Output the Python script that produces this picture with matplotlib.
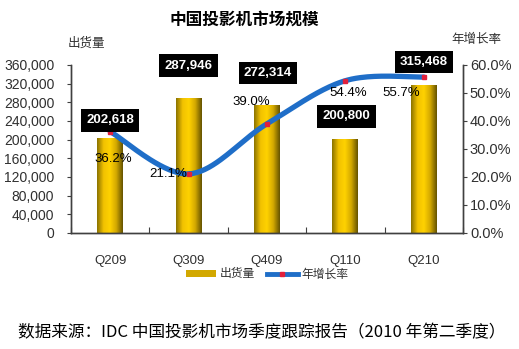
import numpy as np
import matplotlib
matplotlib.use('Agg')
import matplotlib.pyplot as plt
from matplotlib.colors import LinearSegmentedColormap
from matplotlib.patches import Patch
from matplotlib.lines import Line2D
from matplotlib.ticker import FuncFormatter

# 数据
quarters = ['Q209', 'Q309', 'Q409', 'Q110', 'Q210']
shipments = [202618, 287946, 272314, 200800, 315468]
growth = [36.2, 21.1, 39.0, 54.4, 55.7]

# 标签偏移（像素）
value_offsets = [(0, 18), (0, 33), (1, 33), (1, 23), (0, 24)]
pct_offsets = [(3, -27), (-20, 0), (-16, 22), (3, -12), (-23, -16)]

cjk = ['Noto Sans CJK SC', 'DejaVu Sans']
num = ['Liberation Sans', 'DejaVu Sans']
gray = '#303030'
blue = '#1f6ec8'
red = '#e0203c'

fig = plt.figure(figsize=(5.19, 3.49), dpi=100)
ax = fig.add_axes([71 / 519, 1 - 233 / 349, 392 / 519, 168 / 349])
ax2 = ax.twinx()

x = np.arange(len(quarters))

# 柱子 + 金色渐变
bars = ax.bar(x, shipments, width=0.33, color='none', edgecolor='none')
gold = LinearSegmentedColormap.from_list('gold', [
    (0.0, '#8c7400'), (0.25, '#f2c200'), (0.5, '#ffd200'),
    (0.75, '#d2a800'), (1.0, '#665400')])
grad = np.linspace(0, 1, 64).reshape(1, -1)
for b in bars:
    x0, w, h = b.get_x(), b.get_width(), b.get_height()
    ax.imshow(grad, cmap=gold, aspect='auto', extent=(x0, x0 + w, 0, h),
              zorder=2, interpolation='bilinear')

ax.set_xlim(-0.5, len(quarters) - 0.5)
ax.set_ylim(0, 360000)
ax.set_yticks(np.arange(0, 360001, 40000))
ax.yaxis.set_major_formatter(FuncFormatter(lambda v, p: f'{int(v):,}'))
ax2.set_ylim(0, 60)
ax2.set_yticks(np.arange(0, 61, 10))
ax2.yaxis.set_major_formatter(FuncFormatter(lambda v, p: f'{v:.1f}%'))

# x 轴：刻度在类别之间，标签在中间
ax.set_xticks(np.arange(-0.5, len(quarters), 1.0))
ax.set_xticklabels([])
ax.set_xticks(x, minor=True)
ax.set_xticklabels(quarters, minor=True)
ax.tick_params(axis='x', which='major', direction='in', length=4, color='#404040')
ax.tick_params(axis='x', which='minor', length=0, pad=16, labelsize=9.5, labelcolor=gray)
for lab in ax.get_xticklabels(minor=True):
    lab.set_family(num)

ax.tick_params(axis='y', direction='out', length=3, pad=9, labelsize=10,
               labelcolor=gray, color='#404040')
ax2.tick_params(axis='y', direction='out', length=3, pad=2, labelsize=10.5,
                labelcolor=gray, color='#404040')
for lab in ax.get_yticklabels() + ax2.get_yticklabels():
    lab.set_family(num)

for a in (ax, ax2):
    a.spines['top'].set_visible(False)
    for s in ('left', 'right', 'bottom'):
        a.spines[s].set_color('#404040')
        a.spines[s].set_linewidth(1)

# 平滑曲线 (Catmull-Rom)
px = np.array(x, dtype=float)
py = np.array(growth, dtype=float)
P = np.vstack([px, py]).T
P = np.vstack([P[0], P, P[-1]])
cx, cy = [], []
t = np.linspace(0, 1, 40)
for i in range(1, len(P) - 2):
    p0, p1, p2, p3 = P[i - 1], P[i], P[i + 1], P[i + 2]
    for tt in t:
        pt = 0.5 * ((2 * p1) + (-p0 + p2) * tt + (2 * p0 - 5 * p1 + 4 * p2 - p3) * tt ** 2
                    + (-p0 + 3 * p1 - 3 * p2 + p3) * tt ** 3)
        cx.append(pt[0])
        cy.append(pt[1])
ax2.plot(cx, cy, color=blue, lw=3.8, solid_capstyle='round', zorder=3)
ax2.plot(x, growth, ls='none', marker='s', ms=3.5, mfc=red, mec=red, zorder=4)

# 数值标签
for i, v in enumerate(shipments):
    ax2.annotate(f'{v:,}', xy=(x[i], v), xycoords=ax.transData,
                 xytext=value_offsets[i], textcoords='offset pixels',
                 ha='center', va='center', color='white', fontsize=9.5,
                 fontweight='bold', family=num, zorder=6,
                 bbox=dict(boxstyle='square,pad=0.4', fc='black', ec='none'))
for i, g in enumerate(growth):
    ax2.annotate(f'{g:.1f}%', xy=(x[i], g), xytext=pct_offsets[i],
                 textcoords='offset pixels', ha='center', va='center',
                 color='black', fontsize=9.5, family=num, zorder=6)

# 标题和轴标题
fig.text(244 / 519, 1 - 20 / 349, '中国投影机市场规模', ha='center', va='center',
         fontsize=12, fontweight='bold', family=cjk)
fig.text(86 / 519, 1 - 43 / 349, '出货量', ha='center', va='center',
         fontsize=9, color=gray, family=cjk)
fig.text(476 / 519, 1 - 40 / 349, '年增长率', ha='center', va='center',
         fontsize=9, color=gray, family=cjk)

# 图例
handles = [Patch(facecolor='#d2a800', edgecolor='none'),
           Line2D([], [], color=blue, lw=3.5, marker='s', ms=3, mfc=red, mec=red)]
leg = fig.legend(handles, ['出货量', '年增长率'], loc='center',
                 bbox_to_anchor=(267 / 519, 1 - 274 / 349), ncol=2, frameon=False,
                 handlelength=2.6, handleheight=0.5,
                 columnspacing=1.0, handletextpad=0.3, prop={'family': cjk, 'size': 8.5})
for txt in leg.get_texts():
    txt.set_color(gray)

fig.text(18 / 519, 1 - 333 / 349, '数据来源：IDC 中国投影机市场季度跟踪报告（2010 年第二季度）',
         ha='left', va='center', fontsize=12, family=cjk)

fig.savefig('out.png', dpi=100)
